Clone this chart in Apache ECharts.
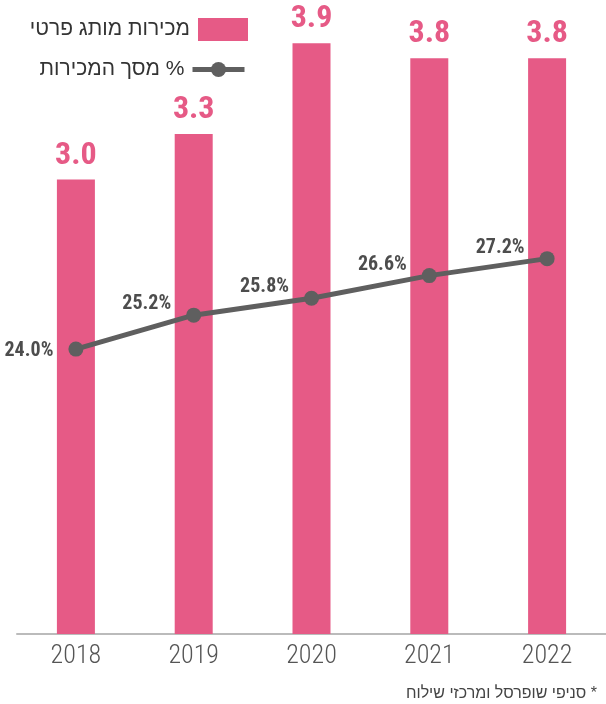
<!DOCTYPE html>
<html>
<head>
<meta charset="utf-8">
<script src="https://cdn.jsdelivr.net/npm/echarts@6/dist/echarts.min.js"></script>
<style>
  html, body { margin: 0; padding: 0; background: #fff; }
  #chart { width: 606px; height: 704px; }
</style>
</head>
<body>
<div id="chart"></div>
<script>
var years = ['2018', '2019', '2020', '2021', '2022'];
var sales = [3.0, 3.3, 3.9, 3.8, 3.8];
var share = [24.0, 25.2, 25.8, 26.6, 27.2];
var salesName = 'מכירות מותג פרטי';
var shareName = 'מסך המכירות %';
var footnote = 'סניפי שופרסל ומרכזי שילוח *';

var pink = '#e65a86';
var grey = '#5f5f5f';
var cond = "Roboto, 'Liberation Sans', sans-serif";

var chart = echarts.init(document.getElementById('chart'), null, { renderer: 'canvas' });
chart.setOption({
  animation: false,
  backgroundColor: '#fff',
  grid: { left: 17, right: -2, top: 28, bottom: 70 },
  legend: [
    {
      data: [{ name: salesName, icon: 'rect' }],
      right: 353, top: 13,
      align: 'right',
      itemWidth: 50, itemHeight: 23,
      textStyle: { color: '#333', fontSize: 21, fontFamily: "'Liberation Sans', sans-serif", padding: [0, 3, 0, 0] }
    },
    {
      data: [shareName],
      right: 354, top: 54,
      align: 'right',
      itemWidth: 52, itemHeight: 19,
      lineStyle: { width: 5, color: grey },
      textStyle: { color: '#333', fontSize: 21, fontFamily: "'Liberation Sans', sans-serif", padding: [0, 3, 0, 0] }
    }
  ],
  title: {
    text: footnote,
    right: 4, top: 681,
    textStyle: { color: '#444', fontSize: 16, fontWeight: 'normal', fontFamily: "'Liberation Sans', sans-serif" }
  },
  xAxis: {
    type: 'category',
    data: years,
    axisLine: { lineStyle: { color: '#bbb', width: 2 } },
    axisTick: { show: false },
    axisLabel: { color: '#555', fontSize: 26, fontWeight: '300 condensed', fontFamily: cond, margin: 9 }
  },
  yAxis: [
    { type: 'value', min: 0, max: 4, show: false },
    { type: 'value', min: 13.92, max: 35.36, show: false }
  ],
  series: [
    {
      type: 'bar',
      name: salesName,
      data: sales,
      barWidth: 38,
      itemStyle: { color: pink },
      label: {
        show: true,
        position: 'top',
        distance: 8,
        color: pink,
        fontSize: 32,
        fontWeight: 'bold condensed',
        fontFamily: cond,
        formatter: function(p) { return p.value.toFixed(1); }
      }
    },
    {
      type: 'line',
      name: shareName,
      yAxisIndex: 1,
      data: share.map(function(v, i) {
        return i === 0 ? { value: v, label: { offset: [0, 2] } } : v;
      }),
      symbol: 'circle',
      symbolSize: 15,
      lineStyle: { color: grey, width: 5 },
      itemStyle: { color: grey },
      label: {
        show: true,
        position: 'left',
        distance: 15,
        offset: [0, -11],
        color: '#4d4d4d',
        fontSize: 20,
        fontWeight: 'bold condensed',
        fontFamily: cond,
        formatter: function(p) { return p.value.toFixed(1) + '%'; }
      }
    }
  ]
});
window.addEventListener('resize', function() { chart.resize(); });
</script>
</body>
</html>
